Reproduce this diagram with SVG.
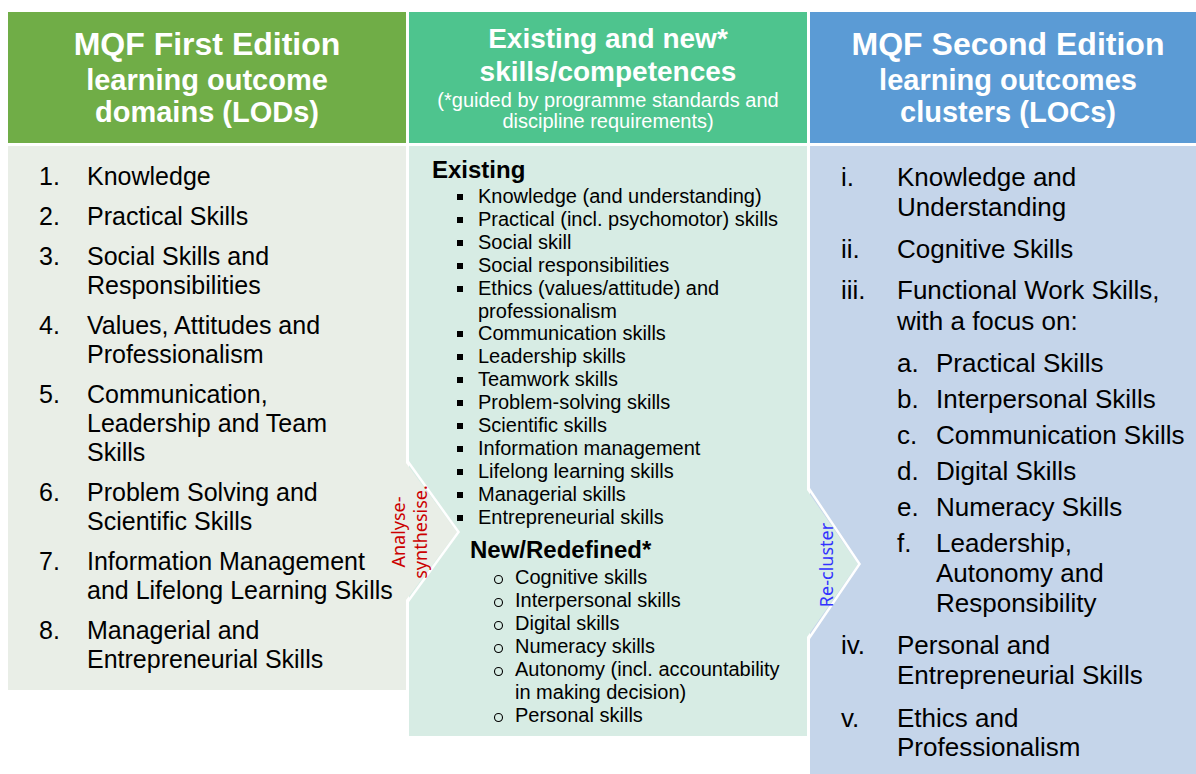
<svg xmlns="http://www.w3.org/2000/svg" width="1196" height="774" viewBox="0 0 1196 774">
<style>
  text { font-family: "Liberation Sans", Arial, sans-serif; fill: #000; }
  .hd { fill: #fff; font-weight: bold; text-anchor: middle; }
  .h32 { font-size: 32px; }
  .h29 { font-size: 29px; }
  .h28 { font-size: 28px; }
  .sub { fill: #fff; font-size: 20px; text-anchor: middle; }
  .l25 { font-size: 25px; }
  .r26 { font-size: 26px; }
  .m20 { font-size: 20px; }
  .mh { font-size: 24px; font-weight: bold; }
  .sq { fill: #000; }
  .ci { fill: none; stroke: #000; stroke-width: 1.1; }
  .rot { font-family: "Noto Sans", "Open Sans", sans-serif; font-size: 18px; text-anchor: middle; }
  .edge { fill: none; stroke: #fff; stroke-width: 2.5; stroke-linejoin: miter; }
</style>

<rect width="1196" height="774" fill="#fff"/>

<g id="lods">
  <rect x="8" y="12" width="398" height="131" fill="#70AD47"/>
  <text class="hd h32" x="207" y="55">MQF First Edition</text>
  <text class="hd h29" x="207" y="90">learning outcome</text>
  <text class="hd h29" x="207" y="122">domains (LODs)</text>
  <rect x="8" y="146" width="398" height="544" fill="#E9EEE7"/>
  <g class="l25">
    <text x="39" y="185">1.</text><text x="87" y="185">Knowledge</text>
    <text x="39" y="225">2.</text><text x="87" y="225">Practical Skills</text>
    <text x="39" y="265">3.</text><text x="87" y="265">Social Skills and</text>
    <text x="87" y="294">Responsibilities</text>
    <text x="39" y="334">4.</text><text x="87" y="334">Values, Attitudes and</text>
    <text x="87" y="363">Professionalism</text>
    <text x="39" y="403">5.</text><text x="87" y="403">Communication,</text>
    <text x="87" y="432">Leadership and Team</text>
    <text x="87" y="461">Skills</text>
    <text x="39" y="501">6.</text><text x="87" y="501">Problem Solving and</text>
    <text x="87" y="530">Scientific Skills</text>
    <text x="39" y="570">7.</text><text x="87" y="570">Information Management</text>
    <text x="87" y="599">and Lifelong Learning Skills</text>
    <text x="39" y="639">8.</text><text x="87" y="639">Managerial and</text>
    <text x="87" y="668">Entrepreneurial Skills</text>
  </g>
</g>

<g id="skills">
  <rect x="409" y="12" width="398" height="131" fill="#4EC48E"/>
  <text class="hd h28" x="608" y="48">Existing and new*</text>
  <text class="hd h28" x="608" y="81">skills/competences</text>
  <text class="sub" x="608" y="107">(*guided by programme standards and</text>
  <text class="sub" x="608" y="128">discipline requirements)</text>
  <rect x="409" y="146" width="398" height="590" fill="#D7ECE4"/>
  <text class="mh" x="432" y="178">Existing</text>
  <g class="sq">
    <rect x="457" y="194" width="6" height="6"/>
    <rect x="457" y="217" width="6" height="6"/>
    <rect x="457" y="240" width="6" height="6"/>
    <rect x="457" y="263" width="6" height="6"/>
    <rect x="457" y="286" width="6" height="6"/>
    <rect x="457" y="331" width="6" height="6"/>
    <rect x="457" y="354" width="6" height="6"/>
    <rect x="457" y="377" width="6" height="6"/>
    <rect x="457" y="400" width="6" height="6"/>
    <rect x="457" y="423" width="6" height="6"/>
    <rect x="457" y="446" width="6" height="6"/>
    <rect x="457" y="469" width="6" height="6"/>
    <rect x="457" y="492" width="6" height="6"/>
    <rect x="457" y="515" width="6" height="6"/>
  </g>
  <g class="m20">
    <text x="478" y="203">Knowledge (and understanding)</text>
    <text x="478" y="226">Practical (incl. psychomotor) skills</text>
    <text x="478" y="249">Social skill</text>
    <text x="478" y="272">Social responsibilities</text>
    <text x="478" y="295">Ethics (values/attitude) and</text>
    <text x="478" y="318">professionalism</text>
    <text x="478" y="340">Communication skills</text>
    <text x="478" y="363">Leadership skills</text>
    <text x="478" y="386">Teamwork skills</text>
    <text x="478" y="409">Problem-solving skills</text>
    <text x="478" y="432">Scientific skills</text>
    <text x="478" y="455">Information management</text>
    <text x="478" y="478">Lifelong learning skills</text>
    <text x="478" y="501">Managerial skills</text>
    <text x="478" y="524">Entrepreneurial skills</text>
  </g>
  <text class="mh" x="470" y="558">New/Redefined*</text>
  <g>
    <circle class="ci" cx="498.5" cy="579.5" r="4"/>
    <circle class="ci" cx="498.5" cy="602.5" r="4"/>
    <circle class="ci" cx="498.5" cy="625.5" r="4"/>
    <circle class="ci" cx="498.5" cy="648.5" r="4"/>
    <circle class="ci" cx="498.5" cy="671.5" r="4"/>
    <circle class="ci" cx="498.5" cy="717.5" r="4"/>
  </g>
  <g class="m20">
    <text x="515" y="584">Cognitive skills</text>
    <text x="515" y="607">Interpersonal skills</text>
    <text x="515" y="630">Digital skills</text>
    <text x="515" y="653">Numeracy skills</text>
    <text x="515" y="676">Autonomy (incl. accountability</text>
    <text x="515" y="699">in making decision)</text>
    <text x="515" y="722">Personal skills</text>
  </g>
</g>

<g id="locs">
  <rect x="810" y="12" width="396" height="131" fill="#5B9BD5"/>
  <text class="hd h32" x="1008" y="55">MQF Second Edition</text>
  <text class="hd h29" x="1008" y="90">learning outcomes</text>
  <text class="hd h29" x="1008" y="122">clusters (LOCs)</text>
  <rect x="810" y="146" width="396" height="628" fill="#C5D5EA"/>
  <g class="r26">
    <text x="841" y="186">i.</text><text x="897" y="186">Knowledge and</text>
    <text x="897" y="216">Understanding</text>
    <text x="841" y="258">ii.</text><text x="897" y="258">Cognitive Skills</text>
    <text x="841" y="299">iii.</text><text x="897" y="299">Functional Work Skills,</text>
    <text x="897" y="330">with a focus on:</text>
    <text x="897" y="372">a.</text><text x="936" y="372">Practical Skills</text>
    <text x="897" y="408">b.</text><text x="936" y="408">Interpersonal Skills</text>
    <text x="897" y="444">c.</text><text x="936" y="444">Communication Skills</text>
    <text x="897" y="480">d.</text><text x="936" y="480">Digital Skills</text>
    <text x="897" y="516">e.</text><text x="936" y="516">Numeracy Skills</text>
    <text x="897" y="552">f.</text><text x="936" y="552">Leadership,</text>
    <text x="936" y="582">Autonomy and</text>
    <text x="936" y="612">Responsibility</text>
    <text x="841" y="654">iv.</text><text x="897" y="654">Personal and</text>
    <text x="897" y="684">Entrepreneurial Skills</text>
    <text x="841" y="727">v.</text><text x="897" y="727">Ethics and</text>
    <text x="897" y="756">Professionalism</text>
  </g>
</g>

<g id="connectors">
  <g id="analyse-synthesise">
    <polygon points="406,463 457,532 406,600" fill="#E9EEE7"/>
    <polyline class="edge" points="407.5,461 458.5,532 407.5,602"/>
    <g transform="translate(405,532) rotate(-90)">
      <text class="rot" x="0" y="0" fill="#CC0000" style="fill:#CC0000">Analyse-</text>
      <text class="rot" x="0" y="22" fill="#CC0000" style="fill:#CC0000">synthesise.</text>
    </g>
  </g>
  <g id="re-cluster">
    <polygon points="807,490 858,564 807,637" fill="#D7ECE4"/>
    <polyline class="edge" points="808.5,488 859.5,564 808.5,639"/>
    <g transform="translate(833,565) rotate(-90)">
      <text class="rot" x="0" y="0" style="fill:#3333FF">Re-cluster</text>
    </g>
  </g>
</g>
</svg>
